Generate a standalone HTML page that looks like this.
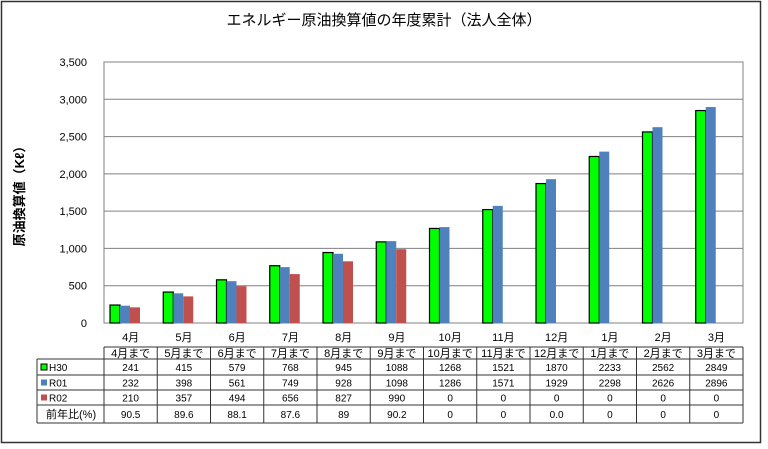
<!DOCTYPE html>
<html><head><meta charset="utf-8"><style>
body{margin:0;background:#fff;width:768px;height:444px;overflow:hidden}
svg text{font-family:"Liberation Sans","Noto Sans CJK JP",sans-serif;fill:#000}
</style></head><body>
<svg id="c" width="768" height="444" xmlns="http://www.w3.org/2000/svg">
<rect x="1.5" y="1.5" width="759" height="441" fill="#fff" stroke="#333" stroke-width="1.5"/>
<text x="384" y="25" font-size="15" text-anchor="middle">エネルギー原油換算値の年度累計（法人全体）</text>
<text transform="translate(24,193) rotate(-90)" font-size="13" font-weight="bold" text-anchor="middle">原油換算値（Kℓ）</text>
<g id="g"></g>
</svg>
<script>
const categories=["4月","5月","6月","7月","8月","9月","10月","11月","12月","1月","2月","3月"];
const tableHeaders=["4月まで","5月まで","6月まで","7月まで","8月まで","9月まで","10月まで","11月まで","12月まで","1月まで","2月まで","3月まで"];
const seriesNames=["H30","R01","R02"];
const h30=[241,415,579,768,945,1088,1268,1521,1870,2233,2562,2849];
const r01=[232,398,561,749,928,1098,1286,1571,1929,2298,2626,2896];
const r02=[210,357,494,656,827,990,0,0,0,0,0,0];
const ratio=["90.5","89.6","88.1","87.6","89","90.2","0","0","0.0","0","0","0"];
const yTicks=[0,500,1000,1500,2000,2500,3000,3500];
const yTickLabels=["0","500","1,000","1,500","2,000","2,500","3,000","3,500"];

const NS="http://www.w3.org/2000/svg";
const g=document.getElementById('g');
const L=104,R=743,T=62,B=323,YMAX=3500;
const cw=(R-L)/categories.length;
const y=v=>B-(v/YMAX)*(B-T);
const x=i=>L+i*cw;
function mk(t,a,txt){const e=document.createElementNS(NS,t);for(const k in a)e.setAttribute(k,a[k]);if(txt!==undefined)e.textContent=txt;g.appendChild(e);return e;}

yTicks.forEach((v,i)=>{
  const l=mk('line',{x1:L,x2:R,y1:y(v),y2:y(v),stroke:'#808080','stroke-width':1});
  
  
  const t=mk('text',{x:87,y:y(v)+4,'font-size':11,'text-anchor':'end',fill:'#222'},yTickLabels[i]);
  
  
});
const pa=mk('rect',{x:L,y:T,width:R-L,height:B-T,fill:'none',stroke:'#808080'});



const cols=['#00ff00','#4f81bd','#c0504d'];
const data=[h30,r01,r02];
categories.forEach((c,i)=>{
  data.forEach((s,k)=>{
    const v=s[i]; if(v<=0)return;
    const bx=x(i)+6+k*10;
    const r=mk('rect',{x:bx,y:y(v),width:10,height:B-y(v),fill:cols[k]});
    if(k===0){r.setAttribute('stroke','#000');r.setAttribute('stroke-width','1.2');}
    
    
  });
  const t=mk('text',{x:x(i)+cw/2,y:341,'font-size':11,'text-anchor':'middle'},c);
  
  
});

const rows=[347,359,375,390,405,423];
const TL=37;
for(let i=0;i<=categories.length;i++){
  const ln=mk('line',{x1:x(i),x2:x(i),y1:rows[0],y2:rows[5],stroke:'#333'});
  
  
}
rows.forEach((ry,j)=>{
  const ln=mk('line',{x1:j===0?L:TL,x2:R,y1:ry,y2:ry,stroke:'#333'});
  
  
});
const lv=mk('line',{x1:TL,x2:TL,y1:rows[1],y2:rows[5],stroke:'#333'});


tableHeaders.forEach((h,i)=>{
  const t=mk('text',{x:x(i)+cw/2,y:357,'font-size':11,'text-anchor':'middle'},h);
  
  
});
const rowVals=[h30,r01,r02,ratio];
rowVals.forEach((arr,j)=>{
  const cy=(rows[j+1]+rows[j+2])/2+4;
  if(j<3){
    const sw=mk('rect',{x:41,y:cy-7,width:6,height:6,fill:cols[j],stroke:j===0?'#000':'none'});
    
    
    const t=mk('text',{x:49,y:cy,'font-size':10},seriesNames[j]);
    
    
  } else {
    const t=mk('text',{x:46,y:cy,'font-size':11},'前年比(%)');
    
    
  }
  arr.forEach((v,i)=>{
    const t=mk('text',{x:x(i)+cw/2,y:cy,'font-size':10,'text-anchor':'middle',fill:'#333'},String(v));
    
    
  });
});
</script>
</body></html>
